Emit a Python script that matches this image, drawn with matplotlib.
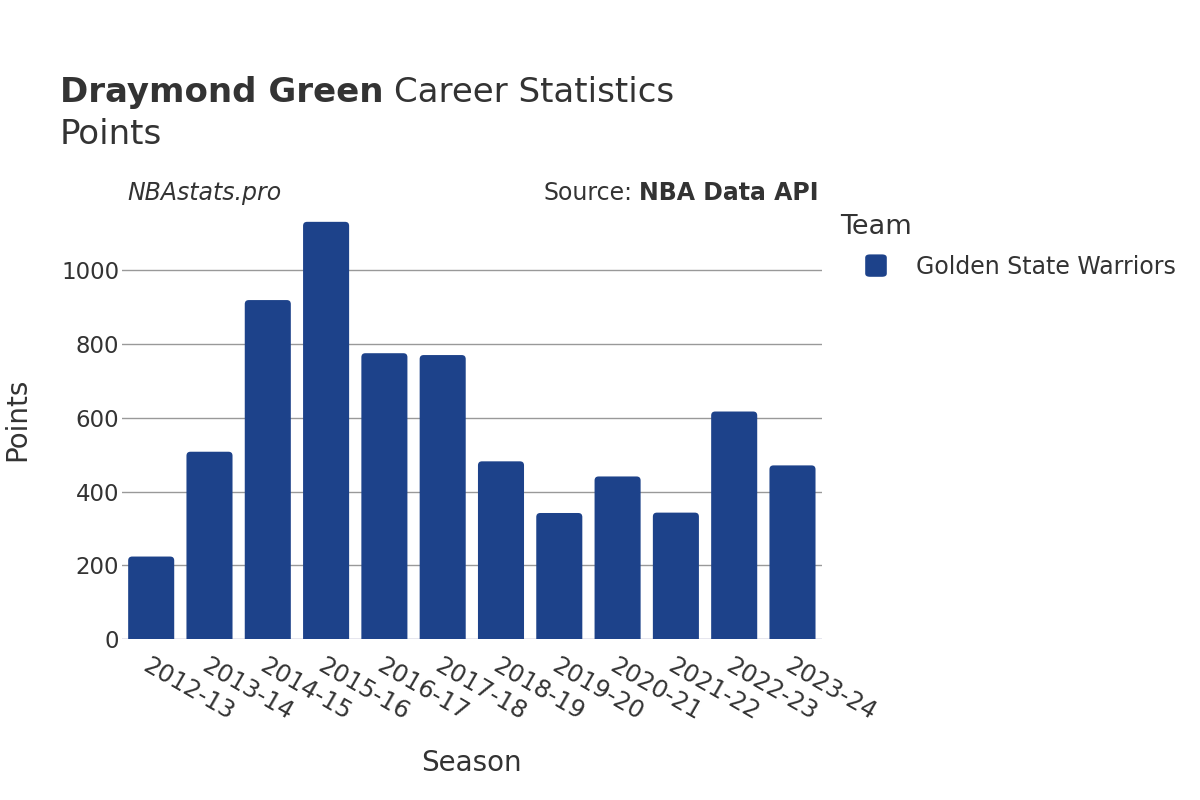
import matplotlib
matplotlib.use("Agg")
import matplotlib.pyplot as plt
from matplotlib.patches import FancyBboxPatch

# data
seasons = ["2012-13", "2013-14", "2014-15", "2015-16", "2016-17", "2017-18",
           "2018-19", "2019-20", "2020-21", "2021-22", "2022-23", "2023-24"]
points = [224, 508, 919, 1131, 775, 770, 482, 342, 441, 343, 617, 471]
team = "Golden State Warriors"

bar_color = "#1d428a"
txt = "#333333"
ymax = 1188

fig = plt.figure(figsize=(12, 8), dpi=100)
ax = fig.add_axes([0.1017, 0.201, 0.583, 0.548])

x = list(range(len(seasons)))
ax.set_xlim(-0.5, len(seasons) - 0.5)
ax.set_ylim(0, ymax)

# bars with rounded tops (bottom corners pushed below the axis and clipped)
fig.canvas.draw()
bb = ax.get_window_extent()
px_x = bb.width / len(seasons)
px_y = bb.height / ymax
w = 0.79
for xi, v in zip(x, points):
    p = FancyBboxPatch((xi - w / 2, -20), w, v + 20,
                       boxstyle="round,pad=0,rounding_size=%f" % (4 / px_x),
                       mutation_aspect=px_x / px_y,
                       fc=bar_color, ec="none", zorder=2)
    ax.add_patch(p)

ax.set_yticks([0, 200, 400, 600, 800, 1000])
ax.yaxis.grid(True, color="#999999", linewidth=1)
ax.set_axisbelow(True)
for s in ax.spines.values():
    s.set_visible(False)
ax.axhline(0, color="#e6e6ef", linewidth=2, zorder=1)
ax.tick_params(axis="y", length=0, labelsize=16.5, colors=txt, pad=2)
ax.set_xticks(x)
ax.set_xticklabels(seasons, rotation=-30, ha="left", rotation_mode="anchor")
ax.tick_params(axis="x", length=0, labelsize=17.5, colors=txt, pad=10)

ax.set_xlabel("Season", fontsize=20, color=txt, labelpad=18)
fig.text(0.0142, 0.476, "Points", fontsize=20, color=txt, rotation=90,
         ha="center", va="center")

# header texts placed next to each other
r = fig.canvas.get_renderer()
t1 = fig.text(0.05, 0.873, "Draymond Green", fontsize=24.5, fontweight="bold", color=txt, va="baseline")
e1 = t1.get_window_extent(r)
fig.text((e1.x1 + 10) / 1200, 0.873, "Career Statistics", fontsize=24.5, color=txt, va="baseline")
fig.text(0.05, 0.82, "Points", fontsize=24.5, color=txt, va="baseline")
fig.text(0.106, 0.75, "NBAstats.pro", fontsize=17, style="italic", color=txt, va="baseline")
t2 = fig.text(0.682, 0.75, "NBA Data API", fontsize=17, fontweight="bold", color=txt,
              va="baseline", ha="right")
e2 = t2.get_window_extent(r)
fig.text((e2.x0 - 6) / 1200, 0.75, "Source:", fontsize=17, color=txt, va="baseline", ha="right")

fig.text(0.7, 0.708, "Team", fontsize=19.5, color=txt, va="baseline")
fig.patches.append(FancyBboxPatch((0.721, 0.654), 0.018, 0.028,
                                  boxstyle="round,pad=0,rounding_size=0.004",
                                  transform=fig.transFigure, fc=bar_color, ec="none"))
fig.text(0.763, 0.658, team, fontsize=17, color=txt, va="baseline")

fig.savefig("out.png", dpi=100)
